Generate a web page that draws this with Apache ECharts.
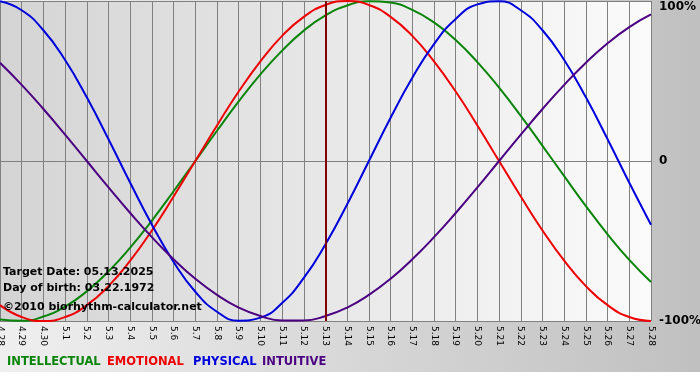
<!DOCTYPE html>
<html>
<head>
<meta charset="utf-8">
<script src="https://cdn.jsdelivr.net/npm/echarts@6/dist/echarts.min.js"></script>
<style>
  html, body { margin: 0; padding: 0; background: #fff; }
  #chart { width: 700px; height: 380px; }
</style>
</head>
<body>
<div id="chart"></div>
<script>
// days shown on the chart (month.day)
let days = ['4.28','4.29','4.30','5.1','5.2','5.3','5.4','5.5','5.6','5.7','5.8','5.9','5.10','5.11','5.12',
  '5.13','5.14','5.15','5.16','5.17','5.18','5.19','5.20','5.21','5.22','5.23','5.24','5.25','5.26','5.27','5.28'];
let targetDay = '5.13';

// values in percent
let intellectual = [-99.0, -99.9, -97.2, -91.0, -81.5, -69.0, -54.1, -37.2, -18.9, 0, 18.9, 37.2, 54.1, 69.0, 81.5,
  91.0, 97.2, 99.9, 99.0, 94.5, 86.6, 75.6, 61.8, 45.8, 28.2, 9.5, -9.5, -28.2, -45.8, -61.8, -75.6];
let emotional = [-90.1, -97.5, -100, -97.5, -90.1, -78.2, -62.3, -43.4, -22.2, 0, 22.2, 43.4, 62.3, 78.2, 90.1,
  97.5, 100, 97.5, 90.1, 78.2, 62.3, 43.4, 22.2, 0, -22.2, -43.4, -62.3, -78.2, -90.1, -97.5, -100];
let physical = [99.8, 94.2, 81.7, 63.1, 39.8, 13.6, -13.6, -39.8, -63.1, -81.7, -94.2, -99.8, -97.9, -88.8, -73.1,
  -52.0, -27.0, 0, 27.0, 52.0, 73.1, 88.8, 97.9, 99.8, 94.2, 81.7, 63.1, 39.8, 13.6, -13.6, -39.8];
let intuitive = [61.4, 47.6, 32.5, 16.5, 0, -16.5, -32.5, -47.6, -61.4, -73.6, -83.7, -91.6, -96.9, -99.7, -99.7,
  -96.9, -91.6, -83.7, -73.6, -61.4, -47.6, -32.5, -16.5, 0, 16.5, 32.5, 47.6, 61.4, 73.6, 83.7, 91.6];

let yTicks = { '100': '{top|100%}', '0': '0', '-100': '-100%' };
let infoLines = ['Target Date: 05.13.2025', 'Day of birth: 03.22.1972', '\u00a92010 biorhythm-calculator.net'];
let legendNames = ['INTELLECTUAL', 'EMOTIONAL', 'PHYSICAL', 'INTUITIVE'];
let colors = ['#0a850a', '#ee0000', '#0000dd', '#4b0082'];

let font = 'Verdana, "DejaVu Sans", sans-serif';

function curve(name, data, color) {
  return {
    name: name,
    type: 'line',
    data: data,
    smooth: true,
    symbol: 'none',
    lineStyle: { color: color, width: 2 },
    itemStyle: { color: color }
  };
}

let chart = echarts.init(document.getElementById('chart'));
let series = [
  curve(legendNames[0], intellectual, colors[0]),
  curve(legendNames[1], emotional, colors[1]),
  curve(legendNames[2], physical, colors[2]),
  curve(legendNames[3], intuitive, colors[3])
];
// target date marker
series[0].markLine = {
  silent: true,
  symbol: 'none',
  label: { show: false },
  lineStyle: { color: '#800000', width: 2, type: 'solid' },
  data: [{ xAxis: targetDay }]
};

let legendX = [7, 107, 193, 262];

let option = {
  animation: false,
  backgroundColor: {
    type: 'linear', x: 0, y: 0, x2: 1, y2: 0,
    colorStops: [{ offset: 0, color: '#efefef' }, { offset: 1, color: '#c0c0c0' }]
  },
  grid: {
    left: 0,
    right: 49,
    top: 1,
    bottom: 59,
    outerBoundsMode: 'none',
    containLabel: false,
    show: true,
    borderWidth: 0,
    backgroundColor: {
      type: 'linear', x: 0, y: 0, x2: 1, y2: 0,
      colorStops: [{ offset: 0, color: '#d4d4d4' }, { offset: 1, color: '#fbfbfb' }]
    }
  },
  xAxis: {
    type: 'category',
    data: days,
    boundaryGap: false,
    axisLine: { lineStyle: { color: '#808080', width: 1 } },
    axisTick: { show: true, length: 5, interval: 0, lineStyle: { color: '#808080' } },
    axisLabel: {
      interval: 0,
      rotate: -90,
      margin: 5,
      color: '#000',
      fontFamily: font,
      fontSize: 9
    },
    splitLine: { show: true, interval: 0, lineStyle: { color: '#808080', width: 1 } }
  },
  yAxis: {
    type: 'value',
    position: 'right',
    min: -100,
    max: 100,
    interval: 100,
    axisLine: { show: false },
    axisTick: { show: false },
    axisLabel: {
      margin: 8,
      color: '#000',
      fontFamily: font,
      fontWeight: 'bold',
      fontSize: 12,
      formatter: v => yTicks[String(v)],
      rich: {
        top: { padding: [12, 0, 0, 0], fontFamily: font, fontWeight: 'bold', fontSize: 12, color: '#000' }
      }
    },
    splitLine: { show: true, lineStyle: { color: '#808080', width: 1 } }
  },
  graphic: [
    { type: 'rect', left: 0, top: 372, z: -1, shape: { width: 700, height: 8 }, style: { fill: '#ffffff' } },
    ...infoLines.map((t, i) => ({
      type: 'text',
      left: 3,
      top: [267, 283, 302][i],
      z: 100,
      style: { text: t, fill: '#000', font: 'bold 11px ' + font }
    })),
    ...legendNames.map((t, i) => ({
      type: 'text',
      left: legendX[i],
      top: 356,
      z: 100,
      style: { text: t, fill: colors[i], font: 'bold 11.5px ' + font }
    }))
  ],
  series: series
};
chart.setOption(option);
</script>
</body>
</html>
